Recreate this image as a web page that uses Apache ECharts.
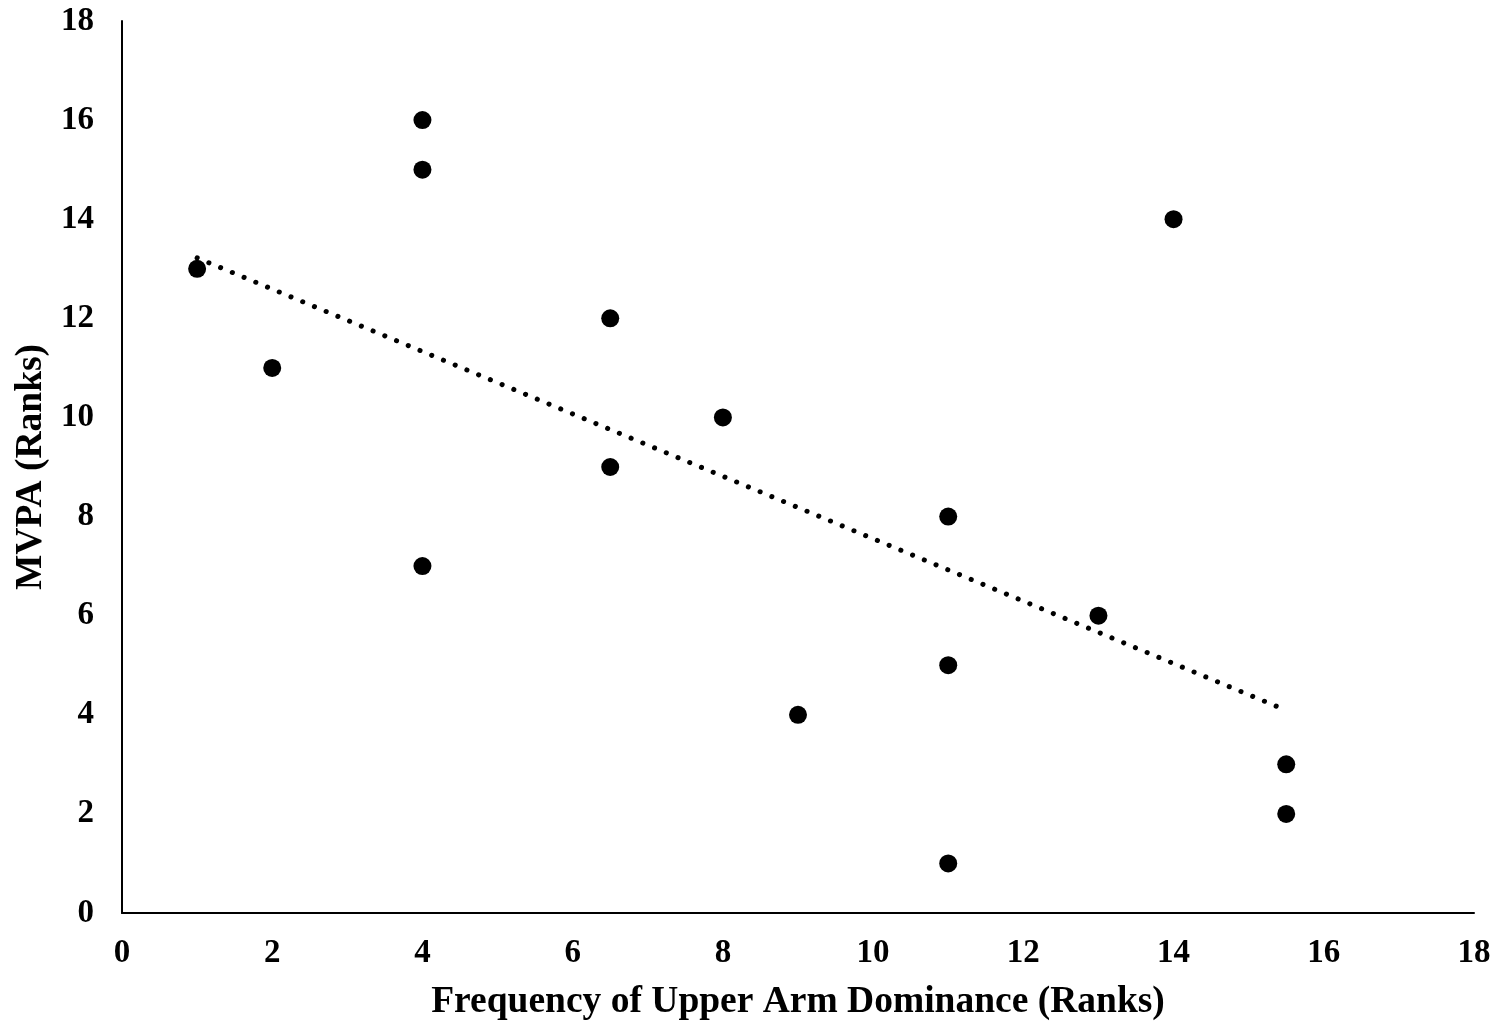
<!DOCTYPE html>
<html>
<head>
<meta charset="utf-8">
<script src="https://cdn.jsdelivr.net/npm/echarts@6/dist/echarts.min.js"></script>
<style>
html,body{margin:0;padding:0;background:#fff;}
#chart{width:1500px;height:1029px;}
</style>
</head>
<body>
<div id="chart"></div>
<script>
const xValues = [1, 2, 4, 4, 4, 6.5, 6.5, 8, 9, 11, 11, 11, 13, 14, 15.5, 15.5];
const yValues = [13, 11, 16, 15, 7, 12, 9, 10, 4, 8, 5, 1, 6, 14, 3, 2];
const trendX = [1, 15.5];
const trendY = [13.22, 4.09];
const xTitle = 'Frequency of Upper Arm Dominance (Ranks)';
const yTitle = 'MVPA (Ranks)';

const points = xValues.map((x, i) => [x, yValues[i]]);
const trend = trendX.map((x, i) => [x, trendY[i]]);
const font = '"Liberation Serif", "Times New Roman", serif';

const chart = echarts.init(document.getElementById('chart'), null, {renderer: 'canvas'});
chart.setOption({
  animation: false,
  backgroundColor: '#fff',
  grid: {left: 122, right: 26, top: 21, bottom: 116, containLabel: false, outerBoundsMode: 'none'},
  xAxis: {
    type: 'value', min: 0, max: 18, interval: 2,
    splitLine: {show: false},
    axisTick: {show: false},
    axisLine: {show: true, onZero: false, lineStyle: {color: '#000', width: 2}},
    axisLabel: {color: '#000', fontFamily: font, fontWeight: 'bold', fontSize: 33, margin: 24},
    name: xTitle, nameLocation: 'middle', nameGap: 70,
    nameTextStyle: {color: '#000', fontFamily: font, fontWeight: 'bold', fontSize: 37.5}
  },
  yAxis: {
    type: 'value', min: 0, max: 18, interval: 2,
    splitLine: {show: false},
    axisTick: {show: false},
    axisLine: {show: true, onZero: false, lineStyle: {color: '#000', width: 2}},
    axisLabel: {color: '#000', fontFamily: font, fontWeight: 'bold', fontSize: 33, margin: 28},
    name: yTitle, nameLocation: 'middle', nameGap: 64, nameRotate: 90,
    nameTextStyle: {color: '#000', fontFamily: font, fontWeight: 'bold', fontSize: 37.5}
  },
  series: [
    {
      type: 'line', data: trend, showSymbol: false, symbol: 'none', z: 1,
      lineStyle: {color: '#000', width: 5, type: [0.1, 12.6], cap: 'round', opacity: 1}
    },
    {
      type: 'scatter', data: points, symbol: 'circle', symbolSize: 18, z: 2,
      itemStyle: {color: '#000', opacity: 1}
    }
  ]
});
</script>
</body>
</html>
